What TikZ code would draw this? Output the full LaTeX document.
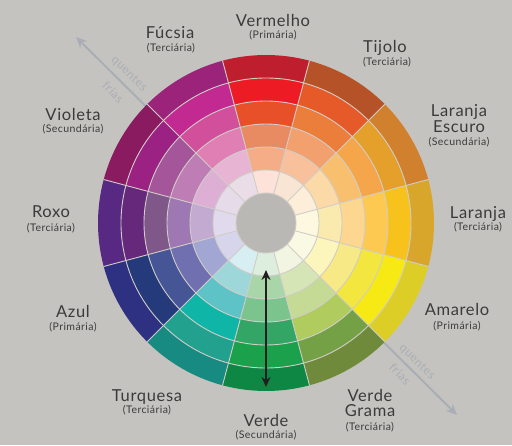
\documentclass[tikz,border=0pt]{standalone}
\usepackage{fontspec}
\setmainfont{Lato}[LetterSpace=4]
\usetikzlibrary{arrows.meta}

\definecolor{fundo}{HTML}{C5C3BF}
\definecolor{miolo}{HTML}{B9B8B4}
\definecolor{divisa}{HTML}{D0CDC8}
\definecolor{texto}{HTML}{3B3B3B}
\definecolor{eixo}{HTML}{A9AEB6}
\definecolor{seta}{HTML}{231F20}

\begin{document}
\begin{tikzpicture}
		[x=1pt,y=1pt,
		nome/.style={font=\fontsize{16.5}{18}\selectfont,color=texto,anchor=base,inner sep=0pt},
		tipo/.style={font=\fontsize{10.5}{12}\selectfont,color=texto,anchor=base,inner sep=0pt},
		nota/.style={font=\fontsize{12}{14}\selectfont,color=eixo,rotate=-45,inner sep=0pt},
		linha/.style={draw=divisa,line width=0.9pt}]
		
		\useasboundingbox (0,0) rectangle (512,445);
		\fill[fundo] (0,0) rectangle (512,445);
		
		% eixo quentes / frias
		\coordinate (cantoA) at (76,408);
		\coordinate (cantoB) at (457,30);
		\draw[<->,color=eixo,line width=2pt,>={Stealth[length=11pt,width=10pt]}] 
		(cantoA) -- (cantoB);
		\node[nota] (quentesA) at (129,371){quentes};
		\node[nota] (friasA) at (113,353){frias};
		\node[nota] (quentesB) at (417,83){quentes};
		\node[nota] (friasB) at (400,71){frias};
		
		% circulo cromatico
		\begin{scope}[shift={(266,222)}]
			\foreach \ang/\cores in {
				90/{BE1E2D,ED1C24,E8502A,E88B62,F5AD87,FCE2D8},
				60/{B55227,E55A28,EC7E3B,F3A06F,F9C19B,F8E5D3},
				30/{D1812E,E4A02B,F6A64A,F8C06E,FCDAA7,FCEED8},
				0/{D8A62B,F8C21D,FDC950,FDD690,FBEAAE,FEF8E1},
				-30/{DDCE27,F7EA14,F2E63F,F7E986,FCF6BC,FAFAE4},
				-60/{6F8A3A,74A145,B0CB5E,C5DA95,D5E5B6,F1F5E1},
				-90/{0E8744,1BA04B,33A666,7BC48E,A8D6A8,DDEEDF},
				-120/{178A82,22A18F,0FB5A6,5EC3C6,9ED7D9,D7EEF2},
				-150/{2E3082,243A7A,455596,7070B1,A2A6D2,D6D5EB},
				180/{572983,66287A,805789,9E78B2,C2AAD1,E1DAEC},
				150/{8A1B61,9B2282,A5559A,BE7EB5,DDAFD4,E6DBE8},
				120/{9B2379,C22A92,D14F9B,E07FB3,E8B4D4,EADDE8}}{
				\foreach \cor [count=\k] in \cores{
					\pgfmathsetmacro{\ro}{191-23*\k}
					\pgfmathsetmacro{\ri}{\ro-23}
					\definecolor{anel}{HTML}{\cor}
					\fill[anel] (\ang-15:\ri pt) arc[start angle=\ang-15,end angle=\ang+15,radius=\ri pt]
					-- (\ang+15:\ro pt) arc[start angle=\ang+15,end angle=\ang-15,radius=\ro pt] -- cycle;
				}
			}
			\foreach \r in {53,76,...,145}
				\draw[linha] (0,0) circle[radius=\r pt];
			\foreach \a in {15,45,...,345}
				\draw[linha] (\a:30pt) -- (\a:168pt);
			\fill[miolo] (0,0) circle[radius=30pt];
			\draw[linha] (0,0) circle[radius=30pt];
		\end{scope}
		
		% seta verde
		\coordinate (topo) at (266,175);
		\coordinate (base) at (266,58);
		\draw[<->,color=seta,line width=1.8pt,>={Stealth[length=10pt,width=9pt]}] 
		(topo) -- (base);
		
		% nomes das cores
		\node[nome] (vermelho) at (273,418){Vermelho};
		\node[tipo] (vermelhoT) at (273,406){(Primária)};
		\node[nome] (tijolo) at (385,392){Tijolo};
		\node[tipo] (tijoloT) at (387,379){(Terciária)};
		\node[nome] (laranjaE) at (459,328){Laranja};
		\node[nome] (escuro) at (459,312){Escuro};
		\node[tipo] (laranjaET) at (459,299){(Secundária)};
		\node[nome] (laranja) at (478,226){Laranja};
		\node[tipo] (laranjaT) at (478,214){(Terciária)};
		\node[nome] (amarelo) at (457,129){Amarelo};
		\node[tipo] (amareloT) at (457,115){(Primária)};
		\node[nome] (verdeG) at (370,43){Verde};
		\node[nome] (grama) at (370,28){Grama};
		\node[tipo] (verdeGT) at (370,15){(Terciária)};
		\node[nome] (verde) at (266,19){Verde};
		\node[tipo] (verdeT) at (266,6){(Secundária)};
		\node[nome] (turquesa) at (147,43){Turquesa};
		\node[tipo] (turquesaT) at (147,31){(Terciária)};
		\node[nome] (azul) at (73,127){Azul};
		\node[tipo] (azulT) at (73,114){(Primária)};
		\node[nome] (roxo) at (51,227){Roxo};
		\node[tipo] (roxoT) at (51,213){(Terciária)};
		\node[nome] (violeta) at (73,324){Violeta};
		\node[tipo] (violetaT) at (73,312){(Secundária)};
		\node[nome] (fucsia) at (170,406){Fúcsia};
		\node[tipo] (fucsiaT) at (171,393){(Terciária)};
	
	\end{tikzpicture}
\end{document}
